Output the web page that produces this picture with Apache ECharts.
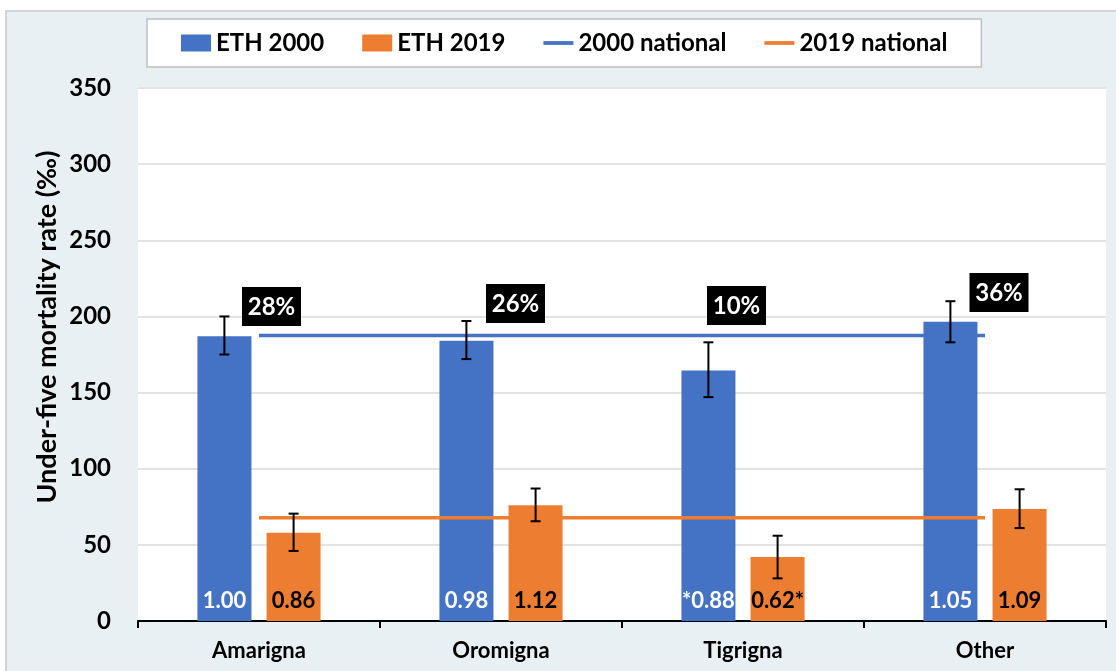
<!DOCTYPE html>
<html>
<head>
<meta charset="utf-8">
<script src="https://cdn.jsdelivr.net/npm/echarts@6/dist/echarts.min.js"></script>
<style>
  html, body { margin: 0; padding: 0; background: #ffffff; }
  #frame { position: absolute; left: 5px; top: 10px; width: 1120px; height: 670px; background: #e8f0f3; border-left: 2px solid #d4d4d4; border-top: 2px solid #d4d4d4; box-sizing: border-box; }
  #chart { position: absolute; left: 0; top: 0; width: 1116px; height: 671px; }
</style>
</head>
<body>
<div id="frame"></div>
<div id="chart"></div>
<script>
// ---- data ----
const categories = ['Amarigna', 'Oromigna', 'Tigrigna', 'Other'];
const eth2000 = [187, 184, 164.5, 196.5];
const eth2000Low = [175, 172, 147, 183];
const eth2000High = [200, 197, 183, 210];
const eth2019 = [58, 76, 42, 73.5];
const eth2019Low = [46, 65.5, 28, 61];
const eth2019High = [70.5, 87, 56, 86.5];
const national2000 = [187.4, 187.4, 187.4, 187.4];
const national2019 = [67.8, 67.8, 67.8, 67.8];
const ratio2000 = ['1.00', '0.98', '*0.88', '1.05'];
const ratio2019 = ['0.86', '1.12', '0.62*', '1.09'];
const changeLabels = ['28%', '26%', '10%', '36%'];
const yAxisTitle = 'Under-five mortality rate (‰)';

// ---- styling ----
const BLUE = '#4472C4';
const ORANGE = '#ED7D31';
const FONT = 'Lato, "Open Sans", sans-serif';
const BAR_W = 54;
const HALF_OFFSET = 34.6;
const labelShift = [[12.5, -29], [14.5, -32], [-6.5, -30], [14, -43]];
const LINE_ICON = 'path://M0,0 L40,0 L40,5 L0,5 Z';

const chart = echarts.init(document.getElementById('chart'), null, { renderer: 'canvas' });

function errRender(offsetSign) {
  return function (params, api) {
    const i = api.value(0);
    const lo = api.coord([i, api.value(1)]);
    const hi = api.coord([i, api.value(2)]);
    const x = lo[0] + offsetSign * HALF_OFFSET;
    const cap = 5;
    const st = { stroke: '#000', lineWidth: 2 };
    return {
      type: 'group',
      children: [
        { type: 'line', shape: { x1: x, y1: lo[1], x2: x, y2: hi[1] }, style: st },
        { type: 'line', shape: { x1: x - cap, y1: lo[1], x2: x + cap, y2: lo[1] }, style: st },
        { type: 'line', shape: { x1: x - cap, y1: hi[1], x2: x + cap, y2: hi[1] }, style: st }
      ]
    };
  };
}

const option = {
  animation: false,
  backgroundColor: 'transparent',
  textStyle: { fontFamily: FONT },
  grid: { left: 138, right: 10, top: 88, bottom: 50, show: true, backgroundColor: '#ffffff', borderWidth: 0 },
  legend: {
    left: 147, top: 19,
    padding: [12, 34, 12, 34],
    backgroundColor: '#ffffff',
    borderColor: '#bfbfbf', borderWidth: 1.5,
    itemGap: 38, itemWidth: 30, itemHeight: 17,
    symbolKeepAspect: true,
    textStyle: { fontFamily: FONT, fontWeight: 'bold', fontSize: 24, color: '#000' },
    data: [
      { name: 'ETH 2000', icon: 'rect' },
      { name: 'ETH 2019', icon: 'rect' },
      { name: '2000 national', icon: LINE_ICON },
      { name: '2019 national', icon: LINE_ICON }
    ]
  },
  xAxis: {
    type: 'category',
    data: categories,
    axisLine: { lineStyle: { color: '#000', width: 2 } },
    axisTick: { show: true, alignWithLabel: false, length: 7, lineStyle: { color: '#000', width: 2 } },
    axisLabel: { fontFamily: FONT, fontWeight: 'bold', fontSize: 22, color: '#000', margin: 19 }
  },
  yAxis: {
    type: 'value',
    min: 0, max: 350, interval: 50,
    axisLine: { show: false },
    axisTick: { show: false },
    splitLine: { lineStyle: { color: '#e3e3e3', width: 2 } },
    axisLabel: { fontFamily: FONT, fontWeight: 'bold', fontSize: 24, color: '#000', margin: 27 }
  },
  graphic: [
    {
      type: 'text', x: 47, y: 327, rotation: Math.PI / 2,
      style: { text: yAxisTitle, fontFamily: FONT, fontWeight: 'bold', fontSize: 27, fill: '#000', align: 'center', verticalAlign: 'middle' }
    }
  ],
  series: [
    {
      name: 'ETH 2000', type: 'bar', data: eth2000, barWidth: BAR_W, barGap: '28%',
      itemStyle: { color: BLUE },
      label: { show: true, position: 'insideBottom', distance: 9, color: '#fff', fontFamily: FONT, fontWeight: 'bold', fontSize: 22,
        formatter: p => ratio2000[p.dataIndex] },
      z: 2
    },
    {
      name: 'ETH 2019', type: 'bar', data: eth2019, barWidth: BAR_W,
      itemStyle: { color: ORANGE },
      label: { show: true, position: 'insideBottom', distance: 9, color: '#000', fontFamily: FONT, fontWeight: 'bold', fontSize: 22,
        formatter: p => ratio2019[p.dataIndex] },
      z: 2
    },
    {
      name: '2000 national', type: 'line', data: national2000, symbol: 'none',
      lineStyle: { color: BLUE, width: 3.5 }, itemStyle: { color: BLUE }, z: 3
    },
    {
      name: '2019 national', type: 'line', data: national2019, symbol: 'none',
      lineStyle: { color: ORANGE, width: 3.5 }, itemStyle: { color: ORANGE }, z: 3
    },
    {
      type: 'custom', name: 'err2000', renderItem: errRender(-1), z: 5,
      data: categories.map((c, i) => [i, eth2000Low[i], eth2000High[i]]), silent: true
    },
    {
      type: 'custom', name: 'err2019', renderItem: errRender(1), z: 5,
      data: categories.map((c, i) => [i, eth2019Low[i], eth2019High[i]]), silent: true
    },
    {
      type: 'custom', name: 'change', z: 6, silent: true,
      data: categories.map((c, i) => [i, national2000[i]]),
      renderItem: function (params, api) {
        const i = api.value(0);
        const p = api.coord([i, api.value(1)]);
        const cx = p[0] + labelShift[i][0];
        const cy = p[1] + labelShift[i][1];
        const w = 59, h = 39;
        return {
          type: 'group',
          children: [
            { type: 'rect', shape: { x: cx - w / 2, y: cy - h / 2, width: w, height: h }, style: { fill: '#000' } },
            { type: 'text', x: cx, y: cy + 1, style: { text: changeLabels[i], fill: '#fff', fontFamily: FONT, fontWeight: 'bold', fontSize: 24, align: 'center', verticalAlign: 'middle' } }
          ]
        };
      }
    }
  ]
};
chart.setOption(option);
</script>
</body>
</html>
